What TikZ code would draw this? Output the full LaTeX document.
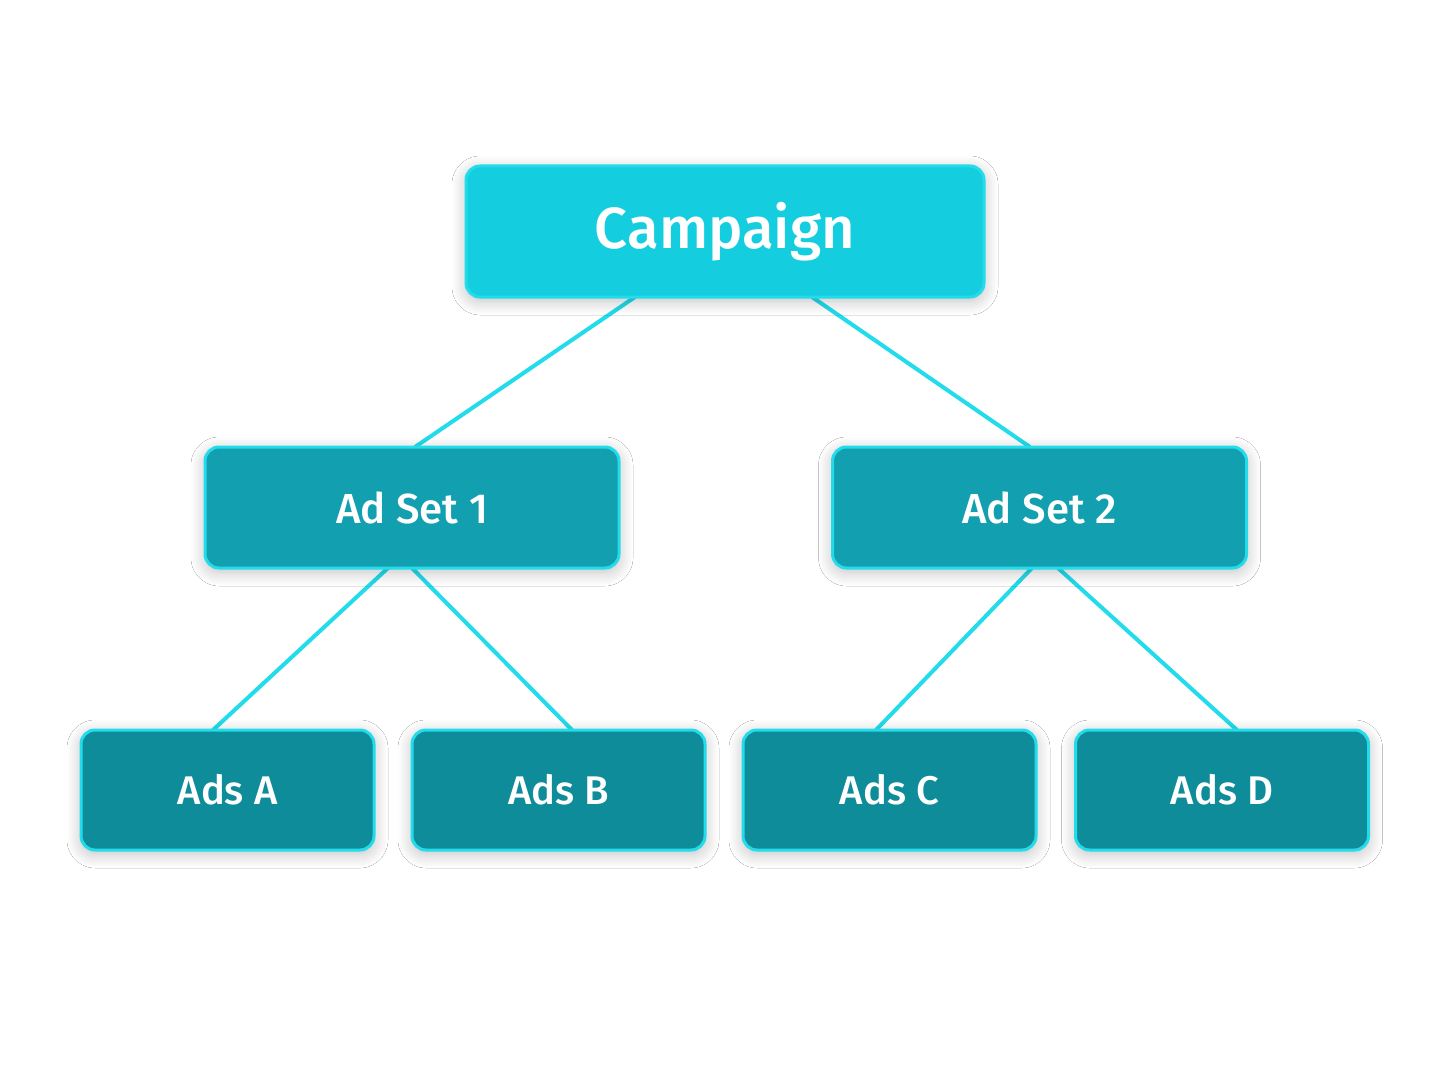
\documentclass[tikz,border=0pt]{standalone}
\usepackage{fontspec}
\setmainfont{Fira Sans}[UprightFont=* Medium]
\usetikzlibrary{shadows.blur}
\definecolor{edge}{HTML}{22DCEB}
\definecolor{campf}{HTML}{14CEDF}
\definecolor{setf}{HTML}{129FAF}
\definecolor{adf}{HTML}{0F8C9A}
\tikzset{x=1pt,y=-1pt,
 box/.style={draw=edge,line width=3pt,rounded corners=14pt,text=white,
   blur shadow={shadow xshift=0pt,shadow yshift=-4pt,shadow blur radius=14pt,shadow opacity=25,shadow blur steps=10}},
 camp/.style={box,fill=campf,minimum width=518pt,minimum height=131pt,font=\fontsize{58}{60}\selectfont},
 aset/.style={box,fill=setf,minimum width=414pt,minimum height=121pt,font=\fontsize{42}{46}\selectfont},
 ad/.style={box,fill=adf,minimum width=293pt,minimum height=120pt,font=\fontsize{40}{44}\selectfont},
 link/.style={draw=edge,line width=4pt}}
\begin{document}
\begin{tikzpicture}
\fill[white] (0,0) rectangle (1448,1086);
\useasboundingbox (0,0) rectangle (1448,1086);
\coordinate (c1) at (635,297); \coordinate (c2) at (812,297);
\coordinate (s1t) at (415,447); \coordinate (s2t) at (1030,447);
\coordinate (s1a) at (388,568); \coordinate (s1b) at (412,568);
\coordinate (s2a) at (1032,568); \coordinate (s2b) at (1058,568);
\coordinate (at) at (213,730); \coordinate (bt) at (572,730);
\coordinate (ct) at (876,730); \coordinate (dt) at (1237,730);
\draw[link] (c1) -- (s1t); \draw[link] (c2) -- (s2t);
\draw[link] (s1a) -- (at); \draw[link] (s1b) -- (bt);
\draw[link] (s2a) -- (ct); \draw[link] (s2b) -- (dt);
\node[camp] (camp) at (725,231.5) {Campaign};
\node[aset] (set1) at (412,507.5) {Ad Set 1};
\node[aset] (set2) at (1039.5,507.5) {Ad Set 2};
\node[ad] (A) at (227.5,790) {Ads A};
\node[ad] (B) at (558.5,790) {Ads B};
\node[ad] (C) at (889.5,790) {Ads C};
\node[ad] (D) at (1222,790) {Ads D};
\end{tikzpicture}
\end{document}
